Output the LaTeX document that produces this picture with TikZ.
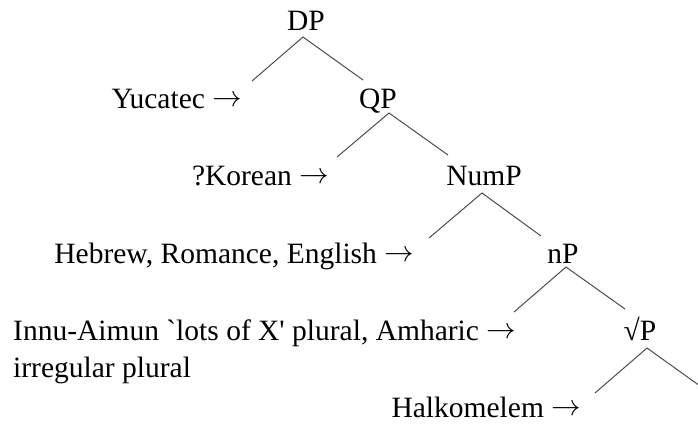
\RequirePackage{fix-cm}
\documentclass[tikz,border=0pt]{standalone}
\usepackage{fontspec}
\setmainfont{Liberation Serif}[Ligatures=TeXOff]
\usepackage{tikz}

\newcommand{\langarrow}{\raisebox{2pt}{$\rightarrow$}}

\begin{document}
\begin{tikzpicture}[x=1pt,y=-1pt,
    phrase/.style={inner sep=0pt,anchor=base},
    lang/.style={inner sep=0pt,anchor=base east},
    branch/.style={line width=1pt,draw=black!70}]
      \fontsize{29.5}{37}\selectfont
      \useasboundingbox (0,0) rectangle (698,423);
      % phrase labels
      \node[phrase] at (306,30) (DP) {DP};
      \node[phrase] at (378,108) (QP) {QP};
      \node[phrase] at (484,185) (NumP) {NumP};
      \node[phrase] at (563,263) (nP) {nP};
      \node[phrase] at (640,340) (RootP) {√P};
      % languages
      \node[lang] at (242,108) (Yuc) {Yucatec \langarrow};
      \node[lang] at (329,185) (Kor) {?Korean \langarrow};
      \node[lang] at (414,263) (Heb) {Hebrew, Romance, English \langarrow};
      \node[inner sep=0pt,anchor=base west,align=left] at (13,377) (Innu) {Innu-Aimun `lots of X' plural, Amharic \langarrow\\irregular plural};
      \node[lang] at (581,417) (Halk) {Halkomelem \langarrow};
      % forks
      \coordinate (DP-a) at (303,37);
      \coordinate (DP-l) at (252,81);
      \coordinate (DP-r) at (363,80);
      \coordinate (QP-a) at (389,113);
      \coordinate (QP-l) at (337,157);
      \coordinate (QP-r) at (448,155);
      \coordinate (NumP-a) at (482,193);
      \coordinate (NumP-l) at (429,238);
      \coordinate (NumP-r) at (541,236);
      \coordinate (nP-a) at (566,267);
      \coordinate (nP-l) at (514,312);
      \coordinate (nP-r) at (625,309);
      \coordinate (RootP-a) at (647,348);
      \coordinate (RootP-l) at (595,393);
      \coordinate (RootP-r) at (707,391);
      \draw[branch] (DP-l) -- (DP-a) -- (DP-r);
      \draw[branch] (QP-l) -- (QP-a) -- (QP-r);
      \draw[branch] (NumP-l) -- (NumP-a) -- (NumP-r);
      \draw[branch] (nP-l) -- (nP-a) -- (nP-r);
      \draw[branch] (RootP-l) -- (RootP-a) -- (RootP-r);
\end{tikzpicture}
\end{document}
